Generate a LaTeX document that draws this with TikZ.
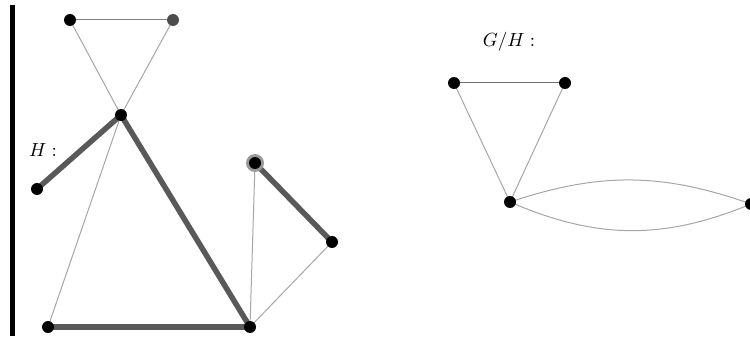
\documentclass[tikz,border=0pt]{standalone}
\usetikzlibrary{backgrounds}
\begin{document}
\begin{tikzpicture}[x=1pt,y=-1pt,
  vtx/.style={circle,fill=black,inner sep=0pt,minimum size=12pt},
  thinedge/.style={draw=black!35,line width=1pt},
  thickedge/.style={draw=black!65,line width=5.5pt}]
\useasboundingbox (0,0) rectangle (750,350);
\clip (0,0) rectangle (750,350);
\fill[black] (10,5) rectangle (15,336);
% left graph
\node[vtx] (a) at (70,20) {};
\node[vtx,fill=black!70] (b) at (173,20) {};
\node[vtx] (c) at (121,115) {};
\node[vtx] (d) at (37,189) {};
\node[vtx] (e) at (48,327) {};
\node[vtx] (f) at (250,327) {};
\node[circle,fill=black!40,inner sep=0pt,minimum size=18pt] (ghalo) at (255,163) {};
\node[vtx] (g) at (255,163) {};
\node[vtx] (h) at (332,242) {};
\node (hl) at (43,150) {\scalebox{1.9}{$H:$}};
% right graph
\node (ghl) at (509,42) {\scalebox{1.9}{$G/H:$}};
\node[vtx] (p) at (454,83) {};
\node[vtx] (q) at (565,83) {};
\node[vtx] (r) at (510,202) {};
\node[vtx] (s) at (751,204) {};
\begin{pgfonlayer}{background}
\draw[thinedge,draw=black!50] (a.center) -- (b.center);
\draw[thinedge] (a.center) -- (c.center);
\draw[thinedge] (b.center) -- (c.center);
\draw[thinedge] (c.center) -- (e.center);
\draw[thinedge] (g.center) -- (f.center);
\draw[thinedge] (h.center) -- (f.center);
\draw[thickedge] (c.center) -- (d.center);
\draw[thickedge] (c.center) -- (f.center);
\draw[thickedge] (e.center) -- (f.center);
\draw[thickedge] (g.center) -- (h.center);
\draw[thinedge,draw=black!55] (p.center) -- (q.center);
\draw[thinedge] (p.center) -- (r.center);
\draw[thinedge] (q.center) -- (r.center);
\draw[thinedge] (r.center) to[bend left=19] (s.center);
\draw[thinedge] (r.center) to[bend right=23] (s.center);
\end{pgfonlayer}
\end{tikzpicture}
\end{document}
